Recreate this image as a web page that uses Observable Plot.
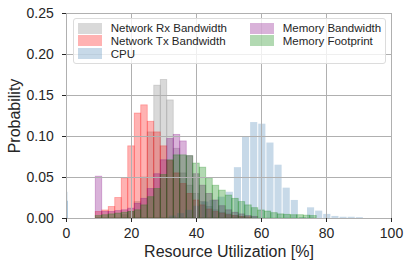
<!DOCTYPE html>
<html><head><meta charset="utf-8">
<script src="https://cdn.jsdelivr.net/npm/d3@7"></script>
<script src="https://cdn.jsdelivr.net/npm/@observablehq/plot@0.6"></script>
<style>
body{margin:0;background:#fff;font-family:"Liberation Sans",Arial,sans-serif;}
#wrap{position:relative;width:411px;height:267px;}
#wrap svg{position:absolute;left:0;top:0;}
#legend{position:absolute;left:73px;top:18px;width:313px;height:46px;background:rgba(255,255,255,0.8);border:1px solid #dcdcdc;border-radius:3px;box-sizing:border-box;}
.item{position:absolute;display:flex;align-items:center;font-size:11.5px;color:#262626;white-space:nowrap;height:12px;line-height:12px;}
.sw{width:24px;height:11px;margin-right:8.7px;flex:none;}
</style></head>
<body><div id="wrap"><div id="chart"></div><div id="legend"></div></div>
<script>
const seriesNames = ["Network Rx Bandwidth","Network Tx Bandwidth","CPU","Memory Bandwidth","Memory Footprint"];
const seriesColors = ["gray","red","steelblue","purple","green"];
const xTicks = [0,20,40,60,80,100];
const yTicks = [0,0.05,0.10,0.15,0.20,0.25];

// Network Rx Bandwidth histogram
const rxStart = 17, rxWidth = 2;
const rxProb = [0.004,0.008,0.02,0.05,0.105,0.162,0.169,0.144,0.085,0.055,0.04,0.03,0.02,0.014,0.01,0.007,0.005,0.003,0.002];
// Network Tx Bandwidth histogram
const txStart = 9, txWidth = 2;
const txProb = [0.008,0.0098,0.014,0.025,0.049,0.088,0.128,0.138,0.118,0.105,0.088,0.07,0.055,0.042,0.03,0.022,0.016,0.011,0.008,0.006,0.004,0.003,0.002,0.0015];
// CPU histogram
const cpuStart = 31.5, cpuWidth = 2.5;
const cpuProb = [0.003,0.006,0.01,0.015,0.02,0.022,0.026,0.032,0.062,0.099,0.117,0.115,0.092,0.065,0.037,0.022,0.001,0.013,0.009,0.005,0.0025,0.0015,0.0015,0.001];
// Memory Bandwidth histogram
const mbStart = 9, mbWidth = 2;
const mbProb = [0.051,0.008,0.008,0.009,0.01,0.012,0.018,0.024,0.036,0.054,0.071,0.097,0.102,0.094,0.076,0.054,0.04,0.03,0.022,0.015,0.01,0.007,0.005,0.003,0.002];
// Memory Footprint histogram
const mfStart = 9, mfWidth = 2;
const mfProb = [0.003,0.004,0.005,0.006,0.007,0.008,0.01,0.016,0.026,0.036,0.053,0.071,0.077,0.077,0.076,0.067,0.062,0.049,0.040,0.034,0.028,0.024,0.020,0.016,0.0126,0.0098,0.0085,0.0065,0.005,0.0045,0.004,0.004,0.0035,0.003];
// small spike at zero utilisation
const zeroSpikeWidth = 0.45;
const zeroSpikeProb = [0.032, 0.021];

function hist(name, start, width, probs){
  return probs.map((p,i)=>({series:name, x1:start+i*width, x2:start+(i+1)*width, p}));
}
const histSpecs = [
  [rxStart, rxWidth, rxProb],
  [txStart, txWidth, txProb],
  [cpuStart, cpuWidth, cpuProb],
  [mbStart, mbWidth, mbProb],
  [mfStart, mfWidth, mfProb]
];
const tables = seriesNames.map((n,k)=>hist(n, histSpecs[k][0], histSpecs[k][1], histSpecs[k][2]));
const spike = zeroSpikeProb.map((p,i)=>({x1:0, x2:zeroSpikeWidth, p, o: i===0?0.3:0.75}));

const font = '"Liberation Sans", Arial, sans-serif';
const barMarks = tables.map((t,k)=>{
  const isCpu = seriesNames[k]==="CPU";
  return Plot.rect(t, {
    x1:"x1", x2:"x2", y1:()=>0, y2:"p",
    fill: seriesColors[k], fillOpacity:0.3,
    stroke: isCpu ? "none" : seriesColors[k], strokeOpacity:0.3, strokeWidth:0.8,
    insetLeft: isCpu?0.5:0, insetRight: isCpu?0.5:0
  });
});

const plot = Plot.plot({
  width:411, height:267,
  marginLeft:66, marginRight:20, marginTop:13, marginBottom:49,
  style:{fontFamily:font, fontSize:"14px", color:"#262626", background:"white", overflow:"visible"},
  x:{domain:[0,100], label:null},
  y:{domain:[0,0.25], label:null},
  marks:[
    ...barMarks,
    Plot.rect(spike, {x1:"x1", x2:"x2", y1:()=>0, y2:"p", fill:"steelblue", fillOpacity:d=>d.o}),
    Plot.gridX(xTicks, {stroke:"#b0b0b0", strokeOpacity:1, strokeWidth:1}),
    Plot.gridY(yTicks, {stroke:"#b0b0b0", strokeOpacity:1, strokeWidth:1}),
    Plot.frame({stroke:"#b0b0b0", strokeWidth:1}),
    Plot.axisX(xTicks, {tickSize:4, tickPadding:6, fontSize:14, stroke:"#262626", fill:"#262626", label:null}),
    Plot.axisY(yTicks, {tickSize:4, tickPadding:8.7, fontSize:14, tickFormat:d3.format(".2f"), stroke:"#262626", fill:"#262626", label:null}),
    Plot.text(["Resource Utilization [%]"], {frameAnchor:"bottom", dy:33.7, lineAnchor:"middle", textAnchor:"middle", fontSize:16, fill:"#262626"}),
    Plot.text(["Probability"], {frameAnchor:"left", dx:-52, rotate:-90, lineAnchor:"middle", textAnchor:"middle", fontSize:16, fill:"#262626"})
  ]
});
document.getElementById("chart").appendChild(plot);

// legend (column-major, 3 rows)
const legendCols = [78, 250];
const legendRows = [28, 40.7, 53.5];
const wrap = document.getElementById("wrap");
seriesNames.forEach((n,k)=>{
  const col = Math.floor(k/3), row = k%3;
  const it = document.createElement("div");
  it.className = "item";
  it.style.left = legendCols[col] + "px";
  it.style.top = (legendRows[row]-6) + "px";
  const sw = document.createElement("div");
  sw.className = "sw";
  sw.style.background = seriesColors[k];
  sw.style.opacity = 0.3;
  it.appendChild(sw);
  const tx = document.createElement("span");
  tx.textContent = n;
  it.appendChild(tx);
  wrap.appendChild(it);
});
</script>
</body></html>
